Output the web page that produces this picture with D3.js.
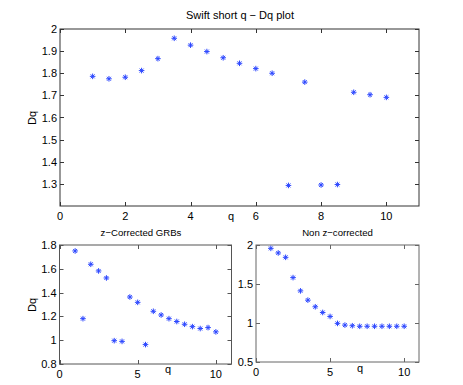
<!DOCTYPE html>
<html>
<head>
<meta charset="utf-8">
<script src="https://cdn.jsdelivr.net/npm/d3@7"></script>
<style>
  body { margin: 0; background: #fff; }
  text { font-family: "Liberation Sans", Arial, sans-serif; fill: #000; }
</style>
</head>
<body>
<div id="chart"></div>
<script>
const qVals = [1, 1.5, 2, 2.5, 3, 3.5, 4, 4.5, 5, 5.5, 6, 6.5, 7, 7.5, 8, 8.5, 9, 9.5, 10];
const dqSwift = [1.786, 1.775, 1.782, 1.812, 1.866, 1.958, 1.927, 1.898, 1.870, 1.845, 1.821, 1.800, 1.293, 1.760, 1.295, 1.297, 1.714, 1.703, 1.691];
const dqZCorr = [1.750, 1.181, 1.638, 1.582, 1.523, 0.996, 0.990, 1.363, 1.318, 0.963, 1.243, 1.212, 1.181, 1.157, 1.134, 1.114, 1.098, 1.106, 1.070];
const dqNonZ = [1.957, 1.898, 1.842, 1.582, 1.412, 1.293, 1.208, 1.135, 1.084, 0.995, 0.973, 0.965, 0.958, 0.958, 0.958, 0.958, 0.958, 0.958, 0.958];

const xTicksTop = [0, 2, 4, 6, 8, 10];
const yTicksTop = [1.3, 1.4, 1.5, 1.6, 1.7, 1.8, 1.9, 2];
const xTicksBottom = [0, 5, 10];
const yTicksZ = [0.8, 1, 1.2, 1.4, 1.6, 1.8];
const yTicksNonZ = [0.5, 1, 1.5, 2];

const W = 463, H = 385;
const svg = d3.select("#chart").append("svg")
  .attr("width", W).attr("height", H);

function panel(opt) {
  const x = d3.scaleLinear().domain([0, 11]).range([opt.left, opt.right]);
  const y = d3.scaleLinear().domain(opt.yDomain).range([opt.bottom, opt.top]);
  const g = svg.append("g");
  const tl = 4;

  // frame
  g.append("rect")
    .attr("x", opt.left).attr("y", opt.top)
    .attr("width", opt.right - opt.left).attr("height", opt.bottom - opt.top)
    .attr("fill", "none").attr("stroke", opt.axisColor).attr("stroke-width", 1);

  // inner ticks on all four sides
  opt.xTicks.forEach(t => {
    const px = Math.round(x(t)) + 0.5;
    g.append("line").attr("x1", px).attr("x2", px)
      .attr("y1", opt.bottom).attr("y2", opt.bottom - tl).attr("stroke", opt.axisColor);
    g.append("line").attr("x1", px).attr("x2", px)
      .attr("y1", opt.top).attr("y2", opt.top + tl).attr("stroke", opt.axisColor);
    g.append("text").attr("x", x(t)).attr("y", opt.bottom + opt.xLabelDy)
      .attr("text-anchor", "middle").attr("font-size", opt.fs).text(t);
  });
  opt.yTicks.forEach(t => {
    const py = Math.round(y(t)) + 0.5;
    g.append("line").attr("x1", opt.left).attr("x2", opt.left + tl)
      .attr("y1", py).attr("y2", py).attr("stroke", opt.axisColor);
    g.append("line").attr("x1", opt.right).attr("x2", opt.right - tl)
      .attr("y1", py).attr("y2", py).attr("stroke", opt.axisColor);
    g.append("text").attr("x", opt.left - 3).attr("y", y(t) + 4)
      .attr("text-anchor", "end").attr("font-size", opt.fs).text(t);
  });

  // asterisk markers
  const s = 2.8;
  const d = s * 0.7;
  const star = `M${-s},0L${s},0M0,${-s}L0,${s}M${-d},${-d}L${d},${d}M${-d},${d}L${d},${-d}`;
  g.selectAll(".pt").data(qVals.map((q, i) => [q, opt.values[i]]))
    .enter().append("path")
    .attr("class", "pt")
    .attr("transform", p => `translate(${x(p[0])},${y(p[1])})`)
    .attr("d", star)
    .attr("fill", "none").attr("stroke", "#2c47ff").attr("stroke-width", 1);

  // title and labels
  g.append("text").attr("x", opt.titleX).attr("y", opt.titleY)
    .attr("text-anchor", "middle").attr("font-size", opt.titleFs).text(opt.title);
  g.append("text").attr("x", opt.qX).attr("y", opt.qY)
    .attr("text-anchor", "middle").attr("font-size", opt.fs).text("q");
  if (opt.dqY) {
    g.append("text")
      .attr("transform", `translate(${opt.dqX},${opt.dqY}) rotate(-90)`)
      .attr("text-anchor", "middle").attr("font-size", opt.fs).text("Dq");
  }
}

panel({
  left: 60, right: 419, top: 29, bottom: 206,
  yDomain: [1.2, 2], xTicks: xTicksTop, yTicks: yTicksTop, values: dqSwift,
  axisColor: "#333", fs: 11, xLabelDy: 14,
  title: "Swift short q \u2212 Dq plot", titleX: 240, titleY: 19, titleFs: 11,
  qX: 231, qY: 220, dqX: 36, dqY: 118
});

panel({
  left: 59.5, right: 231.5, top: 245, bottom: 364,
  yDomain: [0.8, 1.8], xTicks: xTicksBottom, yTicks: yTicksZ, values: dqZCorr,
  axisColor: "#555", fs: 11, xLabelDy: 14,
  title: "z\u2212Corrected GRBs", titleX: 141, titleY: 236, titleFs: 9.6,
  qX: 168, qY: 373, dqX: 36, dqY: 305
});

panel({
  left: 256, right: 419, top: 245, bottom: 362,
  yDomain: [0.5, 2], xTicks: xTicksBottom, yTicks: yTicksNonZ, values: dqNonZ,
  axisColor: "#666", fs: 11, xLabelDy: 14,
  title: "Non z\u2212corrected", titleX: 337.5, titleY: 236, titleFs: 9.6,
  qX: 360, qY: 372
});
</script>
</body>
</html>
